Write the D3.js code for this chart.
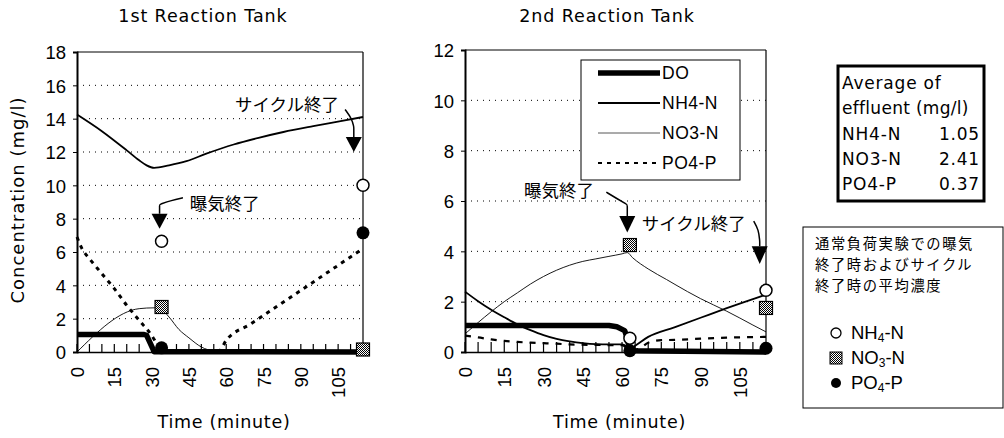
<!DOCTYPE html>
<html><head><meta charset="utf-8">
<script src="https://cdn.jsdelivr.net/npm/d3@7"></script>
<style>body{margin:0;background:#fff}svg{display:block}</style>
</head><body>
<svg id="c" width="1004" height="438"></svg>
<script>
// ---------- data ----------
const timeTicks = [0, 15, 30, 45, 60, 75, 90, 105];
const tank1YTicks = [0, 2, 4, 6, 8, 10, 12, 14, 16, 18];
const tank2YTicks = [0, 2, 4, 6, 8, 10, 12];
const seriesNames = ["DO", "NH4-N", "NO3-N", "PO4-P"];

const tank1DO = [[0,1.05],[27,1.05],[28,1.0],[30,0.35],[31,0.02],[115,0]];
const tank1NH4 = [[0,14.25],[10,13.25],[20,12.1],[25,11.5],[28,11.2],[31,11.05],[37,11.2],[44,11.45],[52,11.9],[63,12.45],[73,12.85],[83,13.2],[95,13.55],[106,13.85],[115,14.1]];
const tank1NO3 = [[0,0],[25,2.6],[31,2.65],[34,2.55],[37,2.1],[41,1.35],[45,0.85],[50,0.3],[55,0.05],[58,0],[115,0]];
const tank1PO4 = [[0,6.9],[2,6.2],[5,5.6],[10,4.7],[15,3.8],[20,2.8],[25,1.9],[30,1.0],[33,0.3],[35,0.05],[57,0.05],[60,0.7],[70,1.7],[80,2.7],[90,3.7],[100,4.7],[110,5.7],[115,6.2]];
const tank1MarkerTimes = [34, 115];
const tank1MarkerNH4 = [6.65, 10.0];
const tank1MarkerNO3 = [2.7, 0.15];
const tank1MarkerPO4 = [0.25, 7.15];

const tank2DO = [[0,1.05],[55,1.05],[58,1.0],[61,0.85],[62,0.55],[63,0.05],[115,0]];
const tank2NH4 = [[0,2.4],[5,2.02],[10,1.68],[15,1.38],[20,1.1],[25,0.87],[30,0.67],[35,0.52],[40,0.42],[45,0.35],[50,0.31],[55,0.3],[60,0.3],[62,0.2],[63,0.12],[65,0.25],[70,0.6],[80,0.98],[90,1.36],[100,1.74],[110,2.1],[115,2.28]];
const tank2NO3 = [[0,0.72],[5,1.17],[10,1.6],[15,2.0],[20,2.35],[25,2.7],[30,3.0],[35,3.25],[40,3.45],[45,3.6],[50,3.7],[55,3.8],[60,3.9],[62,3.95],[64,3.75],[70,3.3],[77,2.88],[85,2.4],[90,2.12],[100,1.62],[105,1.35],[110,1.07],[115,0.8]];
const tank2PO4 = [[0,0.65],[5,0.58],[10,0.5],[15,0.44],[20,0.4],[25,0.37],[30,0.35],[35,0.33],[40,0.3],[50,0.28],[60,0.27],[62,0.15],[64,0.08],[67,0.15],[70,0.37],[75,0.47],[80,0.48],[90,0.53],[100,0.57],[115,0.6]];
const tank2MarkerTimes = [63, 115];
const tank2MarkerNH4 = [0.55, 2.45];
const tank2MarkerNO3 = [4.25, 1.75];
const tank2MarkerPO4 = [0.05, 0.15];

const avgLabels = ["NH4-N", "NO3-N", "PO4-P"];
const avgValues = ["1.05", "2.41", "0.37"];
const noteLines = ["通常負荷実験での曝気", "終了時およびサイクル", "終了時の平均濃度"];
const noteItems = [["NH","4","-N"], ["NO","3","-N"], ["PO","4","-P"]];

// ---------- drawing ----------
const svg = d3.select("#c");
const LAT = "'Liberation Sans', Arial, sans-serif";
const JP = "'Noto Sans CJK JP', sans-serif";
const TITLEF = "'DejaVu Sans', sans-serif";

const defs = svg.append("defs");
const pat = defs.append("pattern").attr("id","chk").attr("width",2).attr("height",2).attr("patternUnits","userSpaceOnUse");
pat.append("rect").attr("width",2).attr("height",2).attr("fill","#fff");
pat.append("rect").attr("width",1).attr("height",1).attr("fill","#000");
pat.append("rect").attr("x",1).attr("y",1).attr("width",1).attr("height",1).attr("fill","#000");

function drawChart(cfg) {
  const x = d3.scaleLinear().domain([0,115]).range([cfg.left, cfg.right]);
  const y = d3.scaleLinear().domain([0, cfg.ymax]).range([cfg.bottom, cfg.top]);
  const g = svg.append("g");

  g.selectAll(".grid").data(cfg.yTicks.filter(v => v > 0 && v < cfg.ymax)).enter()
    .append("line").attr("x1", cfg.left).attr("x2", cfg.right)
    .attr("y1", d => y(d)).attr("y2", d => y(d))
    .attr("stroke","#000").attr("stroke-width",1).attr("stroke-dasharray","1,5");

  g.append("line").attr("x1",cfg.left).attr("x2",cfg.right).attr("y1",cfg.top).attr("y2",cfg.top).attr("stroke","#000").attr("stroke-width",1);
  g.append("line").attr("x1",cfg.right).attr("x2",cfg.right).attr("y1",cfg.top).attr("y2",cfg.bottom).attr("stroke","#000").attr("stroke-width",1.2);

  const ya = d3.axisLeft(y).tickValues(cfg.yTicks).tickSize(4).tickFormat(d3.format("d"));
  const yg = g.append("g").attr("transform",`translate(${cfg.left},0)`).call(ya);
  yg.select(".domain").attr("stroke-width",2);
  yg.selectAll("text").attr("font-family",LAT).attr("font-size",18.5).attr("fill","#000").attr("dx",-4).attr("dy","0.36em");

  const xa = d3.axisBottom(x).tickValues(timeTicks).tickSize(0).tickFormat(d3.format("d"));
  const xg = g.append("g").attr("transform",`translate(0,${cfg.bottom})`).call(xa);
  xg.select(".domain").attr("stroke-width",1.5);
  xg.selectAll("text").attr("font-family",LAT).attr("font-size",18.5).attr("fill","#000")
    .attr("transform","rotate(-90)").attr("text-anchor","end").attr("x",-15).attr("y",0).attr("dy","0.35em");
  g.selectAll(".itk").data(d3.range(0,116,5)).enter().append("line")
    .attr("x1",d=>x(d)).attr("x2",d=>x(d)).attr("y1",cfg.bottom).attr("y2",cfg.bottom - cfg.tickLen)
    .attr("stroke","#000").attr("stroke-width",1.2);

  const line = d3.line().x(d => x(d[0])).y(d => y(d[1])).curve(d3.curveMonotoneX);
  const lineL = d3.line().x(d => x(d[0])).y(d => y(d[1]));

  g.append("path").attr("d", line(cfg.no3)).attr("fill","none").attr("stroke","#000").attr("stroke-width",0.9);
  g.append("path").attr("d", line(cfg.po4)).attr("fill","none").attr("stroke","#000").attr("stroke-width",cfg.po4w).attr("stroke-dasharray",cfg.po4dash);
  g.append("path").attr("d", line(cfg.nh4)).attr("fill","none").attr("stroke","#000").attr("stroke-width",1.8);
  g.append("path").attr("d", lineL(cfg.do)).attr("fill","none").attr("stroke","#000").attr("stroke-width",5.5).attr("stroke-linejoin","round");

  cfg.mt.forEach((t,i) => {
    const s = 13;
    g.append("rect").attr("x", x(t)-s/2).attr("y", y(cfg.mno3[i])-s/2).attr("width",s).attr("height",s)
      .attr("fill","url(#chk)").attr("stroke","#000").attr("stroke-width",1.2);
    g.append("circle").attr("cx",x(t)).attr("cy",y(cfg.mnh4[i])).attr("r",6).attr("fill","#fff").attr("stroke","#000").attr("stroke-width",1.5);
    g.append("circle").attr("cx",x(t)).attr("cy",y(cfg.mpo4[i])).attr("r",6.5).attr("fill","#000");
  });

  cfg.ann.forEach(a => {
    g.append("text").attr("x", x(a.tx)).attr("y", y(a.ty)).text(a.text)
      .attr("font-family",JP).attr("font-size",17.5).attr("fill","#000");
    const pts = a.path.map(p => [x(p[0]), y(p[1])]);
    g.append("path").attr("d", d3.line().curve(d3.curveBasis)(pts)).attr("fill","none").attr("stroke","#000").attr("stroke-width",1.5);
    const last = pts[pts.length-1];
    const tipY = y(a.tip);
    g.append("path").attr("d", `M${last[0]-8},${last[1]}L${last[0]+8},${last[1]}L${last[0]},${tipY}Z`).attr("fill","#000");
  });

  svg.append("text").attr("x", cfg.titleX).attr("y", 22).attr("text-anchor","middle")
    .attr("font-family",TITLEF).attr("font-size",17.5).attr("letter-spacing",0.9).attr("fill","#000").text(cfg.title);
  svg.append("text").attr("x", (cfg.left+cfg.right)/2 + 4).attr("y", 428).attr("text-anchor","middle")
    .attr("font-family",TITLEF).attr("font-size",17.5).attr("letter-spacing",0.7).attr("fill","#000").text("Time (minute)");
  return {x, y};
}

drawChart({
  left: 77, right: 363, top: 52, bottom: 352, ymax: 18, yTicks: tank1YTicks, tickLen: 8,
  do: tank1DO, nh4: tank1NH4, no3: tank1NO3, po4: tank1PO4, po4w: 3, po4dash: "4,5",
  mt: tank1MarkerTimes, mnh4: tank1MarkerNH4, mno3: tank1MarkerNO3, mpo4: tank1MarkerPO4,
  title: "1st Reaction Tank", titleX: 203,
  ann: [
    {text:"曝気終了", tx:45.3, ty:8.55, path:[[42.6,9.25],[38,9.1],[33.2,8.85],[33.2,8.85],[33.2,8.3]], tip:7.4},
    {text:"サイクル終了", tx:63.5, ty:14.45, path:[[107.8,14.55],[110.5,14.0],[111.3,13.5],[111.3,13.5],[111.3,12.9]], tip:12.0}
  ]
});

drawChart({
  left: 465, right: 766, top: 50, bottom: 352, ymax: 12, yTicks: tank2YTicks, tickLen: 10,
  do: tank2DO, nh4: tank2NH4, no3: tank2NO3, po4: tank2PO4, po4w: 2.2, po4dash: "6,7",
  mt: tank2MarkerTimes, mnh4: tank2MarkerNH4, mno3: tank2MarkerNO3, mpo4: tank2MarkerPO4,
  title: "2nd Reaction Tank", titleX: 607,
  ann: [
    {text:"曝気終了", tx:22.5, ty:6.16, path:[[54,6.35],[58,6.1],[62,5.85],[62,5.85],[62,5.4]], tip:4.75},
    {text:"サイクル終了", tx:67.5, ty:4.85, path:[[110.3,5.2],[112.2,4.85],[112.6,4.4],[112.6,4.4],[112.6,4.2]], tip:3.5}
  ]
});

svg.append("text").attr("transform","translate(24,200) rotate(-90)").attr("text-anchor","middle")
  .attr("font-family",TITLEF).attr("font-size",18).attr("letter-spacing",1).attr("fill","#000").text("Concentration (mg/l)");

const lg = svg.append("g");
lg.append("rect").attr("x",581).attr("y",60).attr("width",159).attr("height",120).attr("fill","#fff").attr("stroke","#000").attr("stroke-width",1);
const legStyles = [{w:5.5,dash:null},{w:1.8,dash:null},{w:0.9,dash:null},{w:1.8,dash:"4,5"}];
seriesNames.forEach((n,i) => {
  const yy = 73 + i*30;
  lg.append("line").attr("x1",598).attr("x2",660).attr("y1",yy).attr("y2",yy).attr("stroke", i==2?"#444":"#000")
    .attr("stroke-width",legStyles[i].w).attr("stroke-dasharray",legStyles[i].dash);
  lg.append("text").attr("x",662).attr("y",yy+6).text(n).attr("font-family",LAT).attr("font-size",17.5).attr("letter-spacing",0.5).attr("fill","#000");
});

const ab = svg.append("g");
ab.append("rect").attr("x",838).attr("y",66).attr("width",146).attr("height",135).attr("fill","#fff").attr("stroke","#000").attr("stroke-width",3);
const AF = 17, ALS = 0.8;
ab.append("text").attr("x",842).attr("y",89).text("Average of").attr("font-family",TITLEF).attr("font-size",AF).attr("letter-spacing",ALS);
ab.append("text").attr("x",842).attr("y",114).text("effluent (mg/l)").attr("font-family",TITLEF).attr("font-size",AF).attr("letter-spacing",0.3);
avgLabels.forEach((l,i) => {
  ab.append("text").attr("x",842).attr("y",140+i*25).text(l).attr("font-family",TITLEF).attr("font-size",AF).attr("letter-spacing",ALS);
  ab.append("text").attr("x",980).attr("y",140+i*25).attr("text-anchor","end").text(avgValues[i]).attr("font-family",TITLEF).attr("font-size",AF).attr("letter-spacing",ALS);
});

const nb = svg.append("g");
nb.append("rect").attr("x",803).attr("y",227).attr("width",200).attr("height",181).attr("fill","#fff").attr("stroke","#000").attr("stroke-width",1);
noteLines.forEach((t,i) => {
  nb.append("text").attr("x",815).attr("y",249+i*21).text(t).attr("font-family",JP).attr("font-size",14.3).attr("letter-spacing",1.6).attr("fill","#000");
});
noteItems.forEach((it,i) => {
  const yy = 333 + i*25;
  if (i==0) nb.append("circle").attr("cx",836).attr("cy",yy).attr("r",5).attr("fill","#fff").attr("stroke","#000").attr("stroke-width",1.3);
  if (i==1) nb.append("rect").attr("x",830).attr("y",yy-6).attr("width",12).attr("height",12).attr("fill","url(#chk)").attr("stroke","#000");
  if (i==2) nb.append("circle").attr("cx",836).attr("cy",yy).attr("r",5).attr("fill","#000");
  const t = nb.append("text").attr("x",851).attr("y",yy+6).attr("font-family",LAT).attr("font-size",18.5).attr("fill","#000");
  t.append("tspan").text(it[0]);
  t.append("tspan").text(it[1]).attr("font-size",12).attr("dy",3);
  t.append("tspan").text(it[2]).attr("dy",-3);
});
</script>
</body></html>
